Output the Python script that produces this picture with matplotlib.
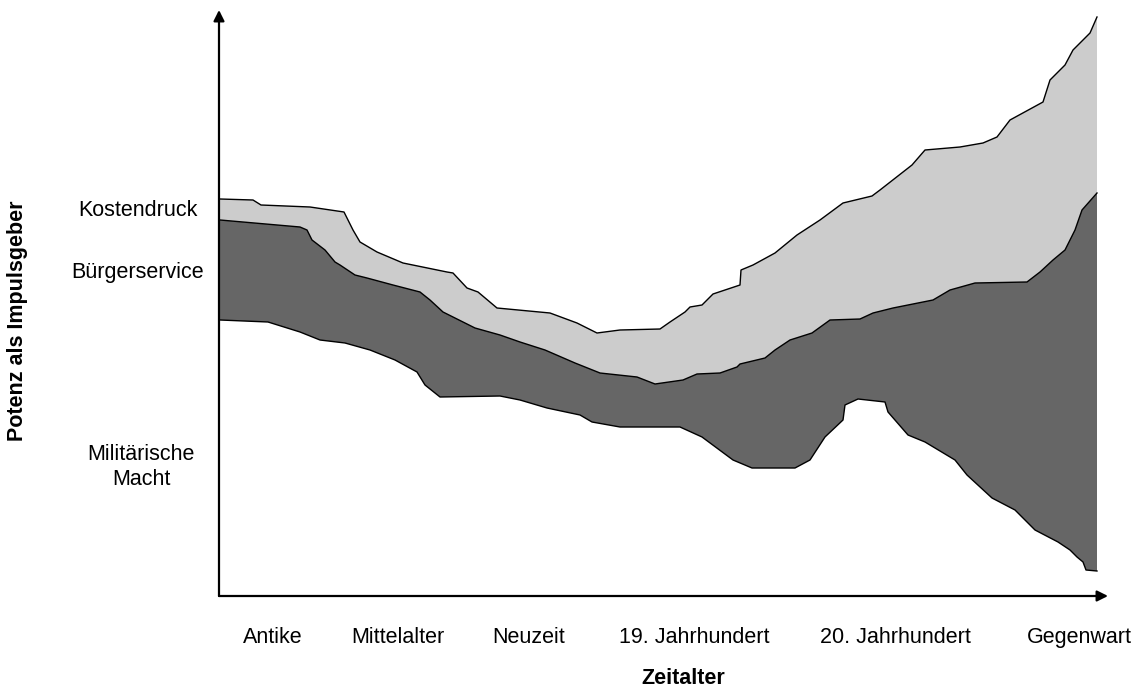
import numpy as np
import matplotlib
matplotlib.use("Agg")
import matplotlib.pyplot as plt

plt.rcParams['font.family'] = ['Liberation Sans', 'DejaVu Sans']

## boundary curves (time, potency)
upper_x = [1, 34, 42, 91, 125, 134, 141, 158, 184, 228, 234, 248, 259, 278, 331, 358, 378, 401, 441, 451,
           466, 471, 483, 494, 521, 522, 534, 556, 578, 601, 624, 653, 661, 693, 706, 741, 764, 778, 791, 824,
           831, 846, 854, 871, 878]
upper_y = [397, 396, 391, 389, 384, 366, 354, 344, 333, 324, 323, 308, 304, 288, 283, 273, 263, 266, 267, 274,
           284, 289, 291, 302, 311, 326, 331, 343, 361, 376, 393, 400, 406, 431, 446, 449, 453, 459, 476, 494,
           516, 531, 546, 563, 579]

middle_x = [1, 81, 88, 93, 106, 116, 121, 136, 148, 174, 201, 211, 224, 256, 281, 301, 326, 356, 381, 418,
            436, 464, 478, 501, 518, 521, 546, 556, 571, 593, 611, 641, 654, 674, 714, 731, 756, 808, 821, 834,
            846, 856, 863, 878]
middle_y = [376, 369, 366, 356, 346, 334, 331, 321, 318, 311, 304, 296, 284, 268, 261, 254, 246, 233, 223, 219,
            212, 216, 222, 223, 229, 232, 238, 246, 256, 263, 276, 277, 283, 288, 296, 306, 313, 314, 324, 336,
            346, 366, 386, 403]

lower_x = [1, 49, 81, 101, 126, 151, 176, 198, 206, 221, 281, 301, 328, 361, 373, 401, 461, 483, 514, 533,
           576, 591, 606, 624, 626, 639, 666, 669, 689, 706, 736, 748, 773, 796, 816, 839, 851, 858, 864, 867,
           878]
lower_y = [276, 274, 264, 256, 253, 246, 236, 224, 211, 199, 200, 196, 188, 181, 174, 169, 169, 159, 136, 128,
           128, 136, 159, 176, 191, 197, 194, 184, 161, 154, 136, 121, 98, 86, 66, 54, 46, 39, 34, 26,
           25]

eras = ['Antike', 'Mittelalter', 'Neuzeit', '19. Jahrhundert', '20. Jahrhundert', 'Gegenwart']
era_pos = [54, 179, 310, 475, 676, 860]

W, H = 1143, 688
fig = plt.figure(figsize=(W / 100, H / 100), dpi=100)
ax = fig.add_axes([219 / W, (H - 596) / H, 889 / W, 586 / H])
ax.set_xlim(0, 889)
ax.set_ylim(0, 586)

# light band (Kostendruck) and dark band (Buergerservice)
ax.fill(np.r_[upper_x, middle_x[::-1]], np.r_[upper_y, middle_y[::-1]], color='#cccccc', lw=0)
ax.fill(np.r_[middle_x, lower_x[::-1]], np.r_[middle_y, lower_y[::-1]], color='#666666', lw=0)
for xs, ys in [(upper_x, upper_y), (middle_x, middle_y), (lower_x, lower_y)]:
    ax.plot(xs, ys, color='black', lw=1.0)

for s in ax.spines.values():
    s.set_visible(False)
ax.set_yticks([])
ax.set_xticks(era_pos)
ax.set_xticklabels(eras, fontsize=15.5)
ax.tick_params(axis='x', length=0, pad=22)

arrow = dict(arrowstyle='-|>', color='black', lw=1.6, mutation_scale=16, shrinkA=0, shrinkB=0)
ax.annotate('', xy=(1, 0), xytext=(0, 0), xycoords='axes fraction', arrowprops=arrow, annotation_clip=False)
ax.annotate('', xy=(0, 1), xytext=(0, 0), xycoords='axes fraction', arrowprops=arrow, annotation_clip=False)

fig.text(683 / W, 1 - 678 / H, 'Zeitalter', fontsize=15.5, fontweight='bold', ha='center', va='center')
fig.text(18 / W, 1 - 321 / H, 'Potenz als Impulsgeber', fontsize=15.5, fontweight='bold',
         rotation=90, ha='center', va='center')
fig.text(138 / W, 1 - 211 / H, 'Kostendruck', fontsize=15.5, ha='center', va='center')
fig.text(138 / W, 1 - 273 / H, 'Bürgerservice', fontsize=15.5, ha='center', va='center')
fig.text(141 / W, 1 - 467 / H, 'Militärische\nMacht', fontsize=15.5, ha='center', va='center',
         multialignment='center', linespacing=1.2)

fig.savefig('out.png', dpi=100)
